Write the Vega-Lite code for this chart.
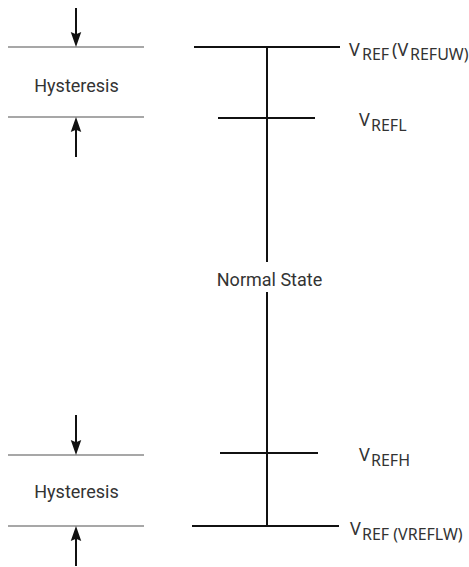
{
  "$schema": "https://vega.github.io/schema/vega-lite/v6.json",
  "width": 469,
  "height": 567,
  "padding": 0,
  "autosize": {"type": "fit", "contains": "padding"},
  "background": "white",
  "config": {"view": {"stroke": null}},
  "datasets": {
    "segments": [
      {"kind": "gray", "x": 8, "x2": 144, "y": 47, "y2": 47},
      {"kind": "gray", "x": 8, "x2": 144, "y": 117, "y2": 117},
      {"kind": "gray", "x": 8, "x2": 144, "y": 455, "y2": 455},
      {"kind": "gray", "x": 8, "x2": 144, "y": 526, "y2": 526},
      {"kind": "shaft", "x": 76, "x2": 76, "y": 8, "y2": 38},
      {"kind": "shaft", "x": 76, "x2": 76, "y": 126, "y2": 157},
      {"kind": "shaft", "x": 76, "x2": 76, "y": 415, "y2": 446},
      {"kind": "shaft", "x": 76, "x2": 76, "y": 535, "y2": 566},
      {"kind": "black", "x": 194, "x2": 340, "y": 47, "y2": 47},
      {"kind": "black", "x": 218, "x2": 315, "y": 118, "y2": 118},
      {"kind": "black", "x": 220, "x2": 318, "y": 453, "y2": 453},
      {"kind": "black", "x": 192, "x2": 339, "y": 526, "y2": 526},
      {"kind": "black", "x": 267, "x2": 267, "y": 47, "y2": 262},
      {"kind": "black", "x": 267, "x2": 267, "y": 292, "y2": 526}
    ],
    "heads": [
      {"dir": "down", "x": 76, "y": 47},
      {"dir": "up", "x": 76, "y": 117},
      {"dir": "down", "x": 76, "y": 455},
      {"dir": "up", "x": 76, "y": 526}
    ],
    "narrow": [
      {"text": "Hysteresis", "x": 76.5, "y": 92},
      {"text": "Hysteresis", "x": 76.5, "y": 498},
      {"text": "Normal State", "x": 269.5, "y": 286}
    ],
    "big": [
      {"text": "V", "x": 349, "y": 56},
      {"text": "(V", "x": 392, "y": 56},
      {"text": "V", "x": 359, "y": 126},
      {"text": "V", "x": 359, "y": 461},
      {"text": "V", "x": 350, "y": 535}
    ],
    "sub": [
      {"text": "REF", "x": 362, "y": 60},
      {"text": "REFUW)", "x": 410, "y": 60},
      {"text": "REFL", "x": 371, "y": 131},
      {"text": "REFH", "x": 371, "y": 466},
      {"text": "REF (VREFLW)", "x": 362, "y": 540}
    ]
  },
  "layer": [
    {
      "data": {"name": "segments"},
      "transform": [{"filter": "datum.kind === 'gray'"}],
      "mark": {"type": "rule", "color": "#8a8a8a", "strokeWidth": 1.5},
      "encoding": {
        "x": {"field": "x", "type": "quantitative", "scale": {"domain": [0, 469], "nice": false, "zero": false}, "axis": null},
        "x2": {"field": "x2"},
        "y": {"field": "y", "type": "quantitative", "scale": {"domain": [0, 567], "nice": false, "zero": false, "reverse": true}, "axis": null},
        "y2": {"field": "y2"}
      }
    },
    {
      "data": {"name": "segments"},
      "transform": [{"filter": "datum.kind === 'shaft'"}],
      "mark": {"type": "rule", "color": "#111111", "strokeWidth": 2},
      "encoding": {
        "x": {"field": "x", "type": "quantitative"},
        "x2": {"field": "x2"},
        "y": {"field": "y", "type": "quantitative"},
        "y2": {"field": "y2"}
      }
    },
    {
      "data": {"name": "segments"},
      "transform": [{"filter": "datum.kind === 'black'"}],
      "mark": {"type": "rule", "color": "#111111", "strokeWidth": 2},
      "encoding": {
        "x": {"field": "x", "type": "quantitative"},
        "x2": {"field": "x2"},
        "y": {"field": "y", "type": "quantitative"},
        "y2": {"field": "y2"}
      }
    },
    {
      "data": {"name": "heads"},
      "transform": [{"filter": "datum.dir === 'down'"}],
      "mark": {"type": "point", "shape": "M0,0L-0.35,-1L0,-0.85L0.35,-1Z", "filled": true, "color": "#111111", "opacity": 1, "size": 900},
      "encoding": {
        "x": {"field": "x", "type": "quantitative"},
        "y": {"field": "y", "type": "quantitative"}
      }
    },
    {
      "data": {"name": "heads"},
      "transform": [{"filter": "datum.dir === 'up'"}],
      "mark": {"type": "point", "shape": "M0,0L-0.35,1L0,0.85L0.35,1Z", "filled": true, "color": "#111111", "opacity": 1, "size": 900},
      "encoding": {
        "x": {"field": "x", "type": "quantitative"},
        "y": {"field": "y", "type": "quantitative"}
      }
    },
    {
      "data": {"name": "narrow"},
      "mark": {"type": "text", "font": "Roboto", "fontSize": 18, "align": "center", "baseline": "alphabetic", "color": "#333333"},
      "encoding": {
        "x": {"field": "x", "type": "quantitative"},
        "y": {"field": "y", "type": "quantitative"},
        "text": {"field": "text"}
      }
    },
    {
      "data": {"name": "big"},
      "mark": {"type": "text", "font": "Noto Sans", "fontSize": 18, "align": "left", "baseline": "alphabetic", "color": "#333333"},
      "encoding": {
        "x": {"field": "x", "type": "quantitative"},
        "y": {"field": "y", "type": "quantitative"},
        "text": {"field": "text"}
      }
    },
    {
      "data": {"name": "sub"},
      "mark": {"type": "text", "font": "Noto Sans", "fontSize": 16, "align": "left", "baseline": "alphabetic", "color": "#333333"},
      "encoding": {
        "x": {"field": "x", "type": "quantitative"},
        "y": {"field": "y", "type": "quantitative"},
        "text": {"field": "text"}
      }
    }
  ]
}
